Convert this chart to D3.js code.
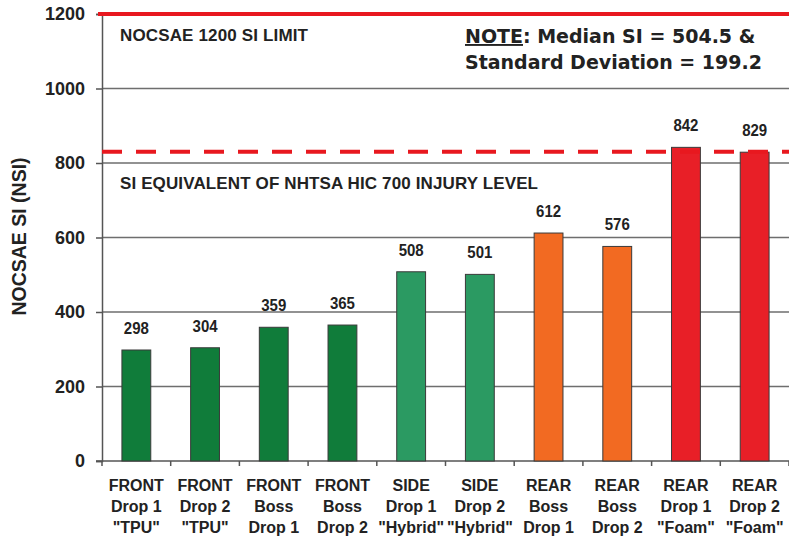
<!DOCTYPE html>
<html>
<head>
<meta charset="utf-8">
<script src="https://cdn.jsdelivr.net/npm/d3@7"></script>
<style>
  body { margin: 0; background: #fff; }
  text { font-family: "Liberation Sans", Arial, sans-serif; font-weight: bold; fill: #222; }
</style>
</head>
<body>
<div id="chart"></div>
<script>
// data
var categories = [
  ["FRONT", "Drop 1", "\"TPU\""],
  ["FRONT", "Drop 2", "\"TPU\""],
  ["FRONT", "Boss", "Drop 1"],
  ["FRONT", "Boss", "Drop 2"],
  ["SIDE", "Drop 1", "\"Hybrid\""],
  ["SIDE", "Drop 2", "\"Hybrid\""],
  ["REAR", "Boss", "Drop 1"],
  ["REAR", "Boss", "Drop 2"],
  ["REAR", "Drop 1", "\"Foam\""],
  ["REAR", "Drop 2", "\"Foam\""]
];
var values = [298, 304, 359, 365, 508, 501, 612, 576, 842, 829];
var barColors = ["#107c3a", "#107c3a", "#107c3a", "#107c3a", "#2b9a62", "#2b9a62",
                 "#f26a22", "#f26a22", "#e81f27", "#e81f27"];
var yTicks = [0, 200, 400, 600, 800, 1000, 1200];
var limitValue = 1200;
var hicValue = 830;

var margin = {top: 14, right: 0, bottom: 77, left: 102},
    width = 789 - margin.left - margin.right,
    height = 538 - margin.top - margin.bottom;

var svg = d3.select("#chart")
  .append("svg")
    .attr("width", 789)
    .attr("height", 538)
  .append("g")
    .attr("transform", "translate(" + margin.left + "," + margin.top + ")");

var x = d3.scaleBand()
  .domain(d3.range(categories.length))
  .range([0, width])
  .paddingInner(0.58)
  .paddingOuter(0.29);

var y = d3.scaleLinear()
  .domain([0, 1200])
  .range([height, 0]);

// gridlines
svg.append("g")
  .selectAll("line")
  .data(yTicks.filter(function(d) { return d > 0 && d < 1200; }))
  .enter().append("line")
    .attr("x1", 0)
    .attr("x2", width)
    .attr("y1", function(d) { return y(d); })
    .attr("y2", function(d) { return y(d); })
    .attr("stroke", "#6e6e6e")
    .attr("stroke-width", 1.6);

// Y axis
var yAxis = svg.append("g")
  .call(d3.axisLeft(y).tickValues(yTicks).tickFormat(d3.format("d")).tickSize(6).tickPadding(11));
yAxis.select(".domain").attr("stroke", "#555").attr("stroke-width", 1.5);
yAxis.selectAll(".tick line").attr("stroke", "#555").attr("stroke-width", 1.5);
yAxis.selectAll(".tick text")
  .style("font-family", "'Liberation Sans', Arial, sans-serif")
  .style("font-weight", "bold")
  .style("font-size", "18px")
  .attr("fill", "#222");

// X axis
var xAxis = svg.append("g")
  .attr("transform", "translate(0," + height + ")");
xAxis.append("line")
  .attr("x1", -6).attr("x2", width)
  .attr("stroke", "#555").attr("stroke-width", 1.5);
xAxis.selectAll(".xt")
  .data(d3.range(categories.length + 1))
  .enter().append("line")
    .attr("class", "xt")
    .attr("x1", function(d) { return d * x.step(); })
    .attr("x2", function(d) { return d * x.step(); })
    .attr("y1", 0).attr("y2", 5)
    .attr("stroke", "#555").attr("stroke-width", 1.5);

// category labels
var lab = svg.append("g").selectAll("text")
  .data(categories)
  .enter().append("text")
    .attr("x", function(d, i) { return x(i) + x.bandwidth() / 2; })
    .attr("y", height + 30)
    .attr("text-anchor", "middle")
    .style("font-size", "16px");
lab.selectAll("tspan")
  .data(function(d) { return d; })
  .enter().append("tspan")
    .attr("x", function() { return d3.select(this.parentNode).attr("x"); })
    .attr("dy", function(d, i) { return i === 0 ? 0 : 21; })
    .text(function(d) { return d; });

// bars
svg.append("g").selectAll("rect")
  .data(values)
  .enter().append("rect")
    .attr("x", function(d, i) { return x(i); })
    .attr("y", function(d) { return y(d); })
    .attr("width", x.bandwidth())
    .attr("height", function(d) { return height - y(d); })
    .attr("fill", function(d, i) { return barColors[i]; })
    .attr("stroke", "#3a3a3a")
    .attr("stroke-width", 1);

// value labels
svg.append("g").selectAll("text")
  .data(values)
  .enter().append("text")
    .attr("x", function(d, i) { return x(i) + x.bandwidth() / 2; })
    .attr("y", function(d) { return y(d) - 16; })
    .attr("text-anchor", "middle")
    .style("font-size", "16px")
    .attr("textLength", 25)
    .attr("lengthAdjust", "spacingAndGlyphs")
    .text(function(d) { return d; });

// limit lines
svg.append("line")
  .attr("x1", -4).attr("x2", width)
  .attr("y1", y(limitValue)).attr("y2", y(limitValue))
  .attr("stroke", "#e8181f").attr("stroke-width", 4);

svg.append("line")
  .attr("x1", 0).attr("x2", width)
  .attr("y1", y(hicValue)).attr("y2", y(hicValue))
  .attr("stroke", "#e8181f").attr("stroke-width", 4)
  .attr("stroke-dasharray", "20,14");

// annotations
svg.append("text")
  .attr("x", 18).attr("y", y(1200) + 27)
  .style("font-size", "17px")
  .attr("textLength", 188)
  .text("NOCSAE 1200 SI LIMIT");

svg.append("text")
  .attr("x", 18).attr("y", y(800) + 26)
  .style("font-size", "17px")
  .attr("textLength", 418)
  .text("SI EQUIVALENT OF NHTSA HIC 700 INJURY LEVEL");

var note = svg.append("text")
  .attr("x", 363).attr("y", 29)
  .style("font-family", "'DejaVu Sans', Verdana, sans-serif")
  .style("font-size", "19px");
note.append("tspan").style("text-decoration", "underline").text("NOTE");
note.append("tspan").text(": Median SI = 504.5 &");
svg.append("text")
  .attr("x", 363).attr("y", 55)
  .style("font-family", "'DejaVu Sans', Verdana, sans-serif")
  .style("font-size", "19px")
  .text("Standard Deviation = 199.2");

// Y axis title
svg.append("text")
  .attr("transform", "translate(" + (-76) + "," + (y(600) - 1) + ") rotate(-90)")
  .attr("text-anchor", "middle")
  .style("font-size", "19.5px")
  .text("NOCSAE SI (NSI)");
</script>
</body>
</html>
